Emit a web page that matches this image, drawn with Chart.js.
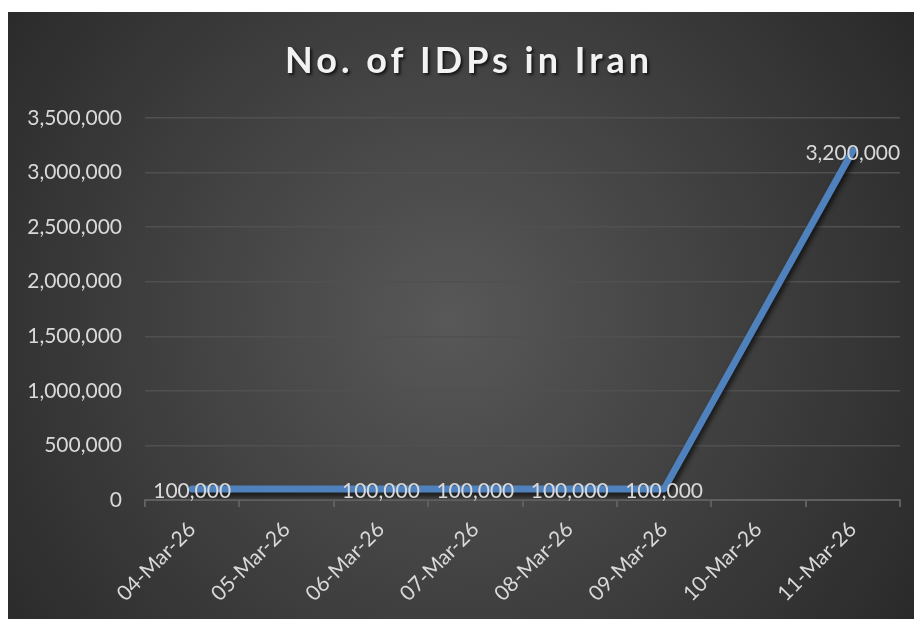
<!DOCTYPE html>
<html>
<head>
<meta charset="utf-8">
<title>No. of IDPs in Iran</title>
<script src="https://cdn.jsdelivr.net/npm/chart.js@4"></script>
<style>
  html, body { margin: 0; padding: 0; background: #ffffff; }
  #wrap { width: 914px; height: 619px; }
</style>
</head>
<body>
<div id="wrap"><canvas id="idpChart" width="914" height="619"></canvas></div>
<script>
// dates on the x axis and displaced people per day (null = no report that day)
const dates = ["04-Mar-26", "05-Mar-26", "06-Mar-26", "07-Mar-26", "08-Mar-26", "09-Mar-26", "10-Mar-26", "11-Mar-26"];
const idps = [100000, null, 100000, 100000, 100000, 100000, null, 3200000];
const yTicks = [0, 500000, 1000000, 1500000, 2000000, 2500000, 3000000, 3500000];
const chartTitle = "No. of IDPs in Iran";

const FONT = "Lato, 'Open Sans', sans-serif";
const TEXT = "#d9d9d9";

// dark panel with a soft radial glow behind everything
const panelBg = {
    id: "panelBg",
    beforeDraw(chart) {
        const ctx = chart.ctx;
        ctx.save();
        ctx.fillStyle = "#ffffff";
        ctx.fillRect(0, 0, chart.width, chart.height);
        const g = ctx.createRadialGradient(450, 320, 0, 450, 320, 620);
        g.addColorStop(0, "#585858");
        g.addColorStop(1, "#242424");
        ctx.fillStyle = g;
        ctx.fillRect(8, 12, chart.width - 8, chart.height - 12);
        ctx.restore();
    },
};

// title drawn by hand so it can get letter spacing and a drop shadow
const spacedTitle = {
    id: "spacedTitle",
    afterDraw(chart) {
        const ctx = chart.ctx;
        ctx.save();
        ctx.font = "bold 36px " + FONT;
        ctx.letterSpacing = "4px";
        ctx.textAlign = "center";
        ctx.textBaseline = "middle";
        ctx.shadowColor = "rgba(0,0,0,0.7)";
        ctx.shadowOffsetX = 2;
        ctx.shadowOffsetY = 2;
        ctx.shadowBlur = 3;
        ctx.fillStyle = "#f2f2f2";
        ctx.fillText(chartTitle, 469, 61);
        ctx.restore();
    },
};

// shadow under the line
const lineShadow = {
    id: "lineShadow",
    beforeDatasetDraw(chart) {
        const ctx = chart.ctx;
        ctx.save();
        ctx.shadowColor = "rgba(0,0,0,0.65)";
        ctx.shadowOffsetX = 2;
        ctx.shadowOffsetY = 4;
        ctx.shadowBlur = 5;
    },
    afterDatasetDraw(chart) {
        chart.ctx.restore();
    },
};

// value labels centred on each point
const valueLabels = {
    id: "valueLabels",
    afterDatasetsDraw(chart) {
        const ctx = chart.ctx;
        const meta = chart.getDatasetMeta(0);
        ctx.save();
        ctx.font = "21px " + FONT;
        ctx.fillStyle = TEXT;
        ctx.textAlign = "center";
        ctx.textBaseline = "middle";
        meta.data.forEach((pt, i) => {
            const v = idps[i];
            if (v === null) return;
            ctx.fillText(v.toLocaleString("en-US"), pt.x, pt.y + 2);
        });
        ctx.restore();
    },
};

new Chart(document.getElementById("idpChart"), {
    type: "line",
    data: {
        labels: dates,
        datasets: [
            {
                data: idps,
                borderColor: "#4f81bd",
                borderWidth: 7,
                borderCapStyle: "round",
                borderJoinStyle: "round",
                pointRadius: 0,
                pointHoverRadius: 0,
                tension: 0,
                spanGaps: true,
            },
        ],
    },
    options: {
        responsive: false,
        animation: false,
        layout: { padding: { top: 118, right: 14, bottom: 0, left: 0 } },
        plugins: {
            legend: { display: false },
            title: { display: false },
            tooltip: { enabled: false },
        },
        scales: {
            x: {
                offset: true,
                grid: {
                    offset: true,
                    drawOnChartArea: false,
                    drawTicks: true,
                    tickLength: 7,
                    color: "#5f5f5f",
                    lineWidth: 2,
                },
                border: { display: true, color: "#5f5f5f", width: 2 },
                ticks: {
                    color: TEXT,
                    font: { family: FONT, size: 21 },
                    minRotation: 45,
                    maxRotation: 45,
                    padding: 10,
                    autoSkip: false,
                },
                afterFit(scale) { scale.height = 119; },
            },
            y: {
                min: 0,
                max: 3500000,
                afterBuildTicks(scale) {
                    scale.ticks = yTicks.map((v) => ({ value: v }));
                },
                grid: { drawTicks: false, color: "#505050", lineWidth: 1.5 },
                border: { display: false },
                ticks: {
                    color: TEXT,
                    font: { family: FONT, size: 21 },
                    padding: 23,
                    callback: (v) => Number(v).toLocaleString("en-US"),
                },
                afterFit(scale) { scale.width = 145; },
            },
        },
    },
    plugins: [panelBg, lineShadow, valueLabels, spacedTitle],
});
</script>
</body>
</html>
